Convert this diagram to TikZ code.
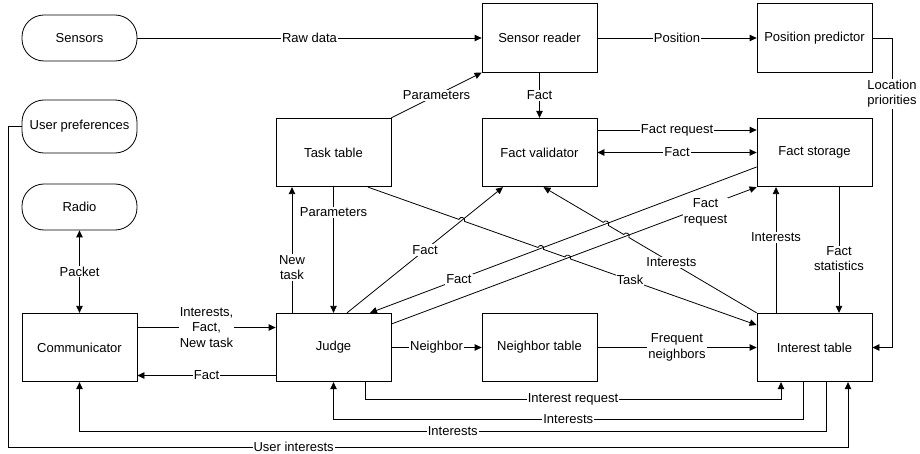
\documentclass[tikz,border=0pt]{standalone}
\usepackage{fontspec}
\setmainfont{Liberation Sans}
\usetikzlibrary{arrows.meta,calc}
\begin{document}
\begin{tikzpicture}[x=1pt,y=-1pt,
  every node/.style={font=\fontsize{13}{15.5}\selectfont},
  box/.style={draw, line width=0.8pt, minimum width=115pt, minimum height=68.5pt, inner sep=0pt},
  term/.style={draw, line width=0.8pt, minimum width=115pt, minimum height=46pt, rounded corners=22pt, inner sep=0pt},
  link/.style={line width=0.8pt},
  arr/.style={link, -{Triangle[length=7pt,width=6.5pt]}},
  darr/.style={link, {Triangle[length=7pt,width=6.5pt]}-{Triangle[length=7pt,width=6.5pt]}},
  lbl/.style={fill=white, inner sep=1pt, align=center},
  hopl/.style={bend left=90, looseness=1.7},
  hopr/.style={bend right=90, looseness=1.7},
]
\useasboundingbox (0,0) rectangle (920,454);

% terminals
\node[term] (sensors) at (79.5,38) {Sensors};
\node[term, minimum height=53pt] (userpref) at (79.5,126.5) {User preferences};
\node[term] (radio) at (79.5,207) {Radio};

% processing blocks
\node[box] (comm) at (79.5,347.5) {Communicator};
\node[box] (reader) at (539.5,38) {Sensor reader};
\node[box] (predictor) at (814.5,38) {Position predictor};
\node[box] (task) at (333.5,152.5) {Task table};
\node[box] (validator) at (539.5,152.5) {Fact validator};
\node[box] (storage) at (814.5,152.5) {Fact storage};
\node[box] (judge) at (333.5,347.5) {Judge};
\node[box] (neigh) at (539.5,347.5) {Neighbor table};
\node[box] (intab) at (814.5,347.5) {Interest table};

% straight connectors
\draw[arr] (sensors) -- node[lbl]{Raw data} (reader);
\draw[arr] (reader) -- node[lbl]{Position} (predictor);
\draw[arr] (reader) -- node[lbl]{Fact} (validator);
\draw[arr] ([yshift=22.5pt]validator.east) -- node[lbl]{Fact request} ([yshift=22.5pt]storage.west);
\draw[darr] (validator) -- node[lbl]{Fact} (storage);
\draw[arr] (task.north east) -- node[lbl]{Parameters} (reader.south west);
\draw[arr] (task) -- node[lbl,pos=0.2]{Parameters} (judge);
\draw[arr] ([xshift=-41.5pt]judge.north) -- node[lbl,pos=0.36]{New\\task} ([xshift=-41.5pt]task.south);
\draw[darr] (radio) -- node[lbl]{Packet} (comm);
\draw[arr] ([yshift=20pt]comm.east) -- node[lbl]{Interests,\\Fact,\\New task} ([yshift=20pt]judge.west);
\draw[arr] ([yshift=-28pt]judge.west) -- node[lbl]{Fact} ([yshift=-28pt]comm.east);
\draw[arr] (judge) -- node[lbl]{Neighbor} (neigh);
\draw[arr] (neigh) -- node[lbl]{Frequent\\neighbors} (intab);
\draw[arr] ([xshift=-38.5pt]intab.north) -- node[lbl,pos=0.6]{Interests} ([xshift=-38.5pt]storage.south);
\draw[arr] ([xshift=24.5pt]storage.south) -- node[lbl,pos=0.57]{Fact\\statistics} ([xshift=24.5pt]intab.north);

% routed connectors
\coordinate (lpturn) at (892,347.5);
\draw[arr] (predictor.east) -| node[lbl,pos=0.59]{Location\\priorities} (lpturn) -- (intab.east);
\draw[arr] ([xshift=31.5pt]judge.south) -- ++(0,17.25) -| node[lbl,pos=0.25]{Interest request} ([xshift=-33.5pt]intab.south);
\draw[arr] ([xshift=-11.5pt]intab.south) -- ++(0,37) -| node[lbl,pos=0.25]{Interests} (judge.south);
\draw[arr] ([xshift=11.5pt]intab.south) -- ++(0,49) -| node[lbl,pos=0.25]{Interests} (comm.south);
\coordinate (uiturn) at (8,447);
\draw[arr] (userpref.west) -| (uiturn) -| node[lbl,pos=0.17]{User interests} ([xshift=33.5pt]intab.south);

% diagonal connectors
\coordinate (A1) at ([xshift=34.5pt]task.south);
\coordinate (A2) at ([yshift=22.5pt]intab.west);
\coordinate (B1) at ([xshift=13.5pt]judge.north);
\coordinate (B2) at ([xshift=-36.5pt]validator.south);
\coordinate (C1) at ([yshift=-14.5pt]storage.west);
\coordinate (C2) at ([xshift=36.5pt]judge.north);
\coordinate (D1) at ([yshift=23.5pt]judge.east);
\coordinate (D2) at (storage.south west);
\coordinate (E1) at (intab.north west);
\coordinate (E2) at ([xshift=4pt]validator.south);

\coordinate (AB) at (intersection of A1--A2 and B1--B2);
\coordinate (AC) at (intersection of A1--A2 and C1--C2);
\coordinate (AD) at (intersection of A1--A2 and D1--D2);
\coordinate (EC) at (intersection of E1--E2 and C1--C2);
\coordinate (ED) at (intersection of E1--E2 and D1--D2);

\draw[arr] (B1) -- node[lbl]{Fact} (B2);
\draw[arr] (D1) -- node[lbl,pos=0.86,yshift=-6pt,inner sep=0.5pt]{Fact\\request} (D2);
\draw[arr] (C1) -- node[lbl,pos=0.77]{Fact} (C2);

% lines that hop over the crossings
\draw[arr] (A1) -- ($(AB)!3pt!(A1)$) to[hopl] ($(AB)!3pt!(A2)$)
  -- ($(AC)!3pt!(A1)$) to[hopl] ($(AC)!3pt!(A2)$)
  -- ($(AD)!3pt!(A1)$) to[hopl] ($(AD)!3pt!(A2)$) -- (A2);
\node[lbl] at ($(A1)!0.674!(A2)$) {Task};
\draw[arr] (E1) -- ($(ED)!3pt!(E1)$) to[hopr] ($(ED)!3pt!(E2)$)
  -- ($(EC)!3pt!(E1)$) to[hopr] ($(EC)!3pt!(E2)$) -- (E2);
\node[lbl] at ($(E1)!0.4!(E2)$) {Interests};
\end{tikzpicture}
\end{document}
